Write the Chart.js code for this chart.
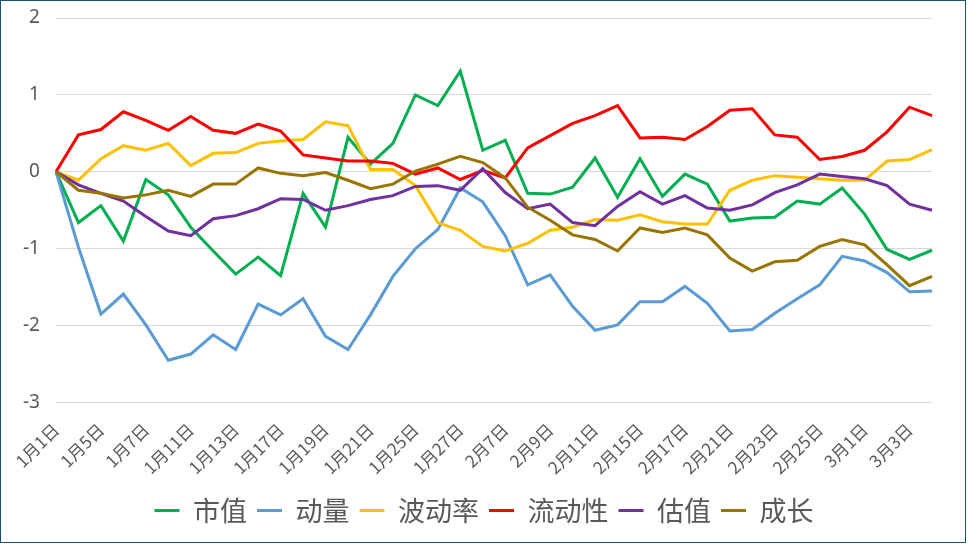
<!DOCTYPE html>
<html>
<head>
<meta charset="utf-8">
<script src="https://cdn.jsdelivr.net/npm/chart.js@4"></script>
<style>
  html, body { margin: 0; padding: 0; background: #fff; }
  #box { width: 964px; height: 541px; border: 1px solid #1F4E79; position: relative; }
</style>
</head>
<body>
<div id="box"><canvas id="myChart" width="964" height="541"></canvas></div>
<script>
const dates = ['1月1日','1月4日','1月5日','1月6日','1月7日','1月10日','1月11日','1月12日','1月13日','1月14日',
  '1月17日','1月18日','1月19日','1月20日','1月21日','1月24日','1月25日','1月26日','1月27日','1月28日',
  '2月7日','2月8日','2月9日','2月10日','2月11日','2月14日','2月15日','2月16日','2月17日','2月18日',
  '2月21日','2月22日','2月23日','2月24日','2月25日','2月28日','3月1日','3月2日','3月3日','3月4日'];

const shizhi = [0,-0.66,-0.44,-0.90,-0.10,-0.30,-0.72,-1.03,-1.33,-1.11,
  -1.35,-0.28,-0.72,0.45,0.10,0.37,1.00,0.86,1.31,0.28,
  0.41,-0.28,-0.29,-0.20,0.18,-0.33,0.17,-0.32,-0.03,-0.16,
  -0.64,-0.60,-0.59,-0.38,-0.42,-0.21,-0.55,-1.01,-1.14,-1.02];
const dongliang = [0,-0.98,-1.85,-1.59,-1.99,-2.45,-2.37,-2.12,-2.31,-1.72,
  -1.86,-1.65,-2.14,-2.31,-1.86,-1.36,-1.00,-0.75,-0.21,-0.39,
  -0.83,-1.47,-1.34,-1.75,-2.06,-1.99,-1.69,-1.69,-1.49,-1.71,
  -2.07,-2.05,-1.84,-1.65,-1.47,-1.10,-1.16,-1.31,-1.56,-1.55];
const bodonglv = [0,-0.11,0.17,0.34,0.28,0.37,0.08,0.24,0.25,0.37,
  0.40,0.42,0.65,0.60,0.03,0.03,-0.18,-0.66,-0.76,-0.97,
  -1.03,-0.93,-0.76,-0.72,-0.62,-0.63,-0.56,-0.65,-0.68,-0.68,
  -0.24,-0.11,-0.05,-0.07,-0.09,-0.11,-0.11,0.14,0.16,0.29];
const liudongxing = [0,0.48,0.55,0.78,0.67,0.54,0.72,0.54,0.50,0.62,
  0.53,0.22,0.18,0.14,0.14,0.11,-0.03,0.05,-0.10,0.02,
  -0.08,0.31,0.47,0.63,0.73,0.86,0.44,0.45,0.42,0.59,
  0.80,0.82,0.48,0.45,0.16,0.20,0.28,0.52,0.84,0.73];
const guzhi = [0,-0.17,-0.28,-0.38,-0.58,-0.77,-0.83,-0.61,-0.57,-0.48,
  -0.35,-0.36,-0.50,-0.44,-0.36,-0.31,-0.19,-0.18,-0.24,0.04,
  -0.27,-0.48,-0.42,-0.66,-0.70,-0.45,-0.26,-0.42,-0.31,-0.47,
  -0.50,-0.43,-0.27,-0.17,-0.03,-0.06,-0.09,-0.18,-0.42,-0.50];
const chengzhang = [0,-0.24,-0.28,-0.34,-0.30,-0.24,-0.32,-0.16,-0.16,0.05,
  -0.02,-0.05,-0.01,-0.11,-0.22,-0.16,0.01,0.10,0.20,0.12,
  -0.08,-0.46,-0.63,-0.82,-0.88,-1.03,-0.73,-0.79,-0.73,-0.82,
  -1.12,-1.29,-1.17,-1.15,-0.97,-0.88,-0.95,-1.21,-1.48,-1.36];

const names = ['市值','动量','波动率','流动性','估值','成长'];
const colors = ['#00B050','#5B9BD5','#FFC000','#FF0000','#7030A0','#9A7400'];
const series = [shizhi, dongliang, bodonglv, liudongxing, guzhi, chengzhang];

const datasets = [];
for (let k = 0; k < series.length; k++) {
    datasets.push({
        label: names[k],
        data: series[k],
        borderColor: colors[k],
        backgroundColor: colors[k],
        borderWidth: 3,
        pointRadius: 0,
        tension: 0,
        order: series.length - k   // later series on top, like Excel
    });
}

const ctx = document.getElementById('myChart');
new Chart(ctx, {
    type: 'line',
    data: { labels: dates, datasets: datasets },
    options: {
        responsive: false,
        animation: false,
        layout: { padding: { top: 17, right: 4, left: 6, bottom: 8 } },
        plugins: {
            tooltip: { enabled: false },
            legend: {
                position: 'bottom',
                labels: {
                    usePointStyle: true,
                    pointStyle: 'line',
                    pointStyleWidth: 25,
                    padding: 10,
                    color: '#595959',
                    font: { family: '"Noto Sans CJK SC"', size: 27 },
                    sort: (a, b) => a.datasetIndex - b.datasetIndex
                }
            }
        },
        scales: {
            y: {
                min: -3,
                max: 2,
                // tick padding would otherwise also push the plot top down
                afterFit: function(scale) {
                    scale.paddingTop = 0;
                    scale.paddingBottom = 0;
                },
                ticks: {
                    stepSize: 1,
                    padding: 16,
                    color: '#595959',
                    font: { family: '"Noto Sans", sans-serif', size: 19 }
                },
                grid: { color: '#D9D9D9', lineWidth: 1, drawTicks: false },
                border: { display: false }
            },
            x: {
                // keep the plot narrower on the right without shifting the legend
                afterFit: function(scale) {
                    scale.paddingRight = 33;
                },
                ticks: {
                    autoSkip: false,
                    minRotation: 45,
                    maxRotation: 45,
                    padding: 9,
                    color: '#595959',
                    font: { family: '"Noto Sans CJK SC"', size: 17 },
                    callback: function(value, index) {
                        return index % 2 === 0 ? this.getLabelForValue(value) : '';
                    }
                },
                grid: { display: false },
                border: { display: false }
            }
        }
    }
});
</script>
</body>
</html>
